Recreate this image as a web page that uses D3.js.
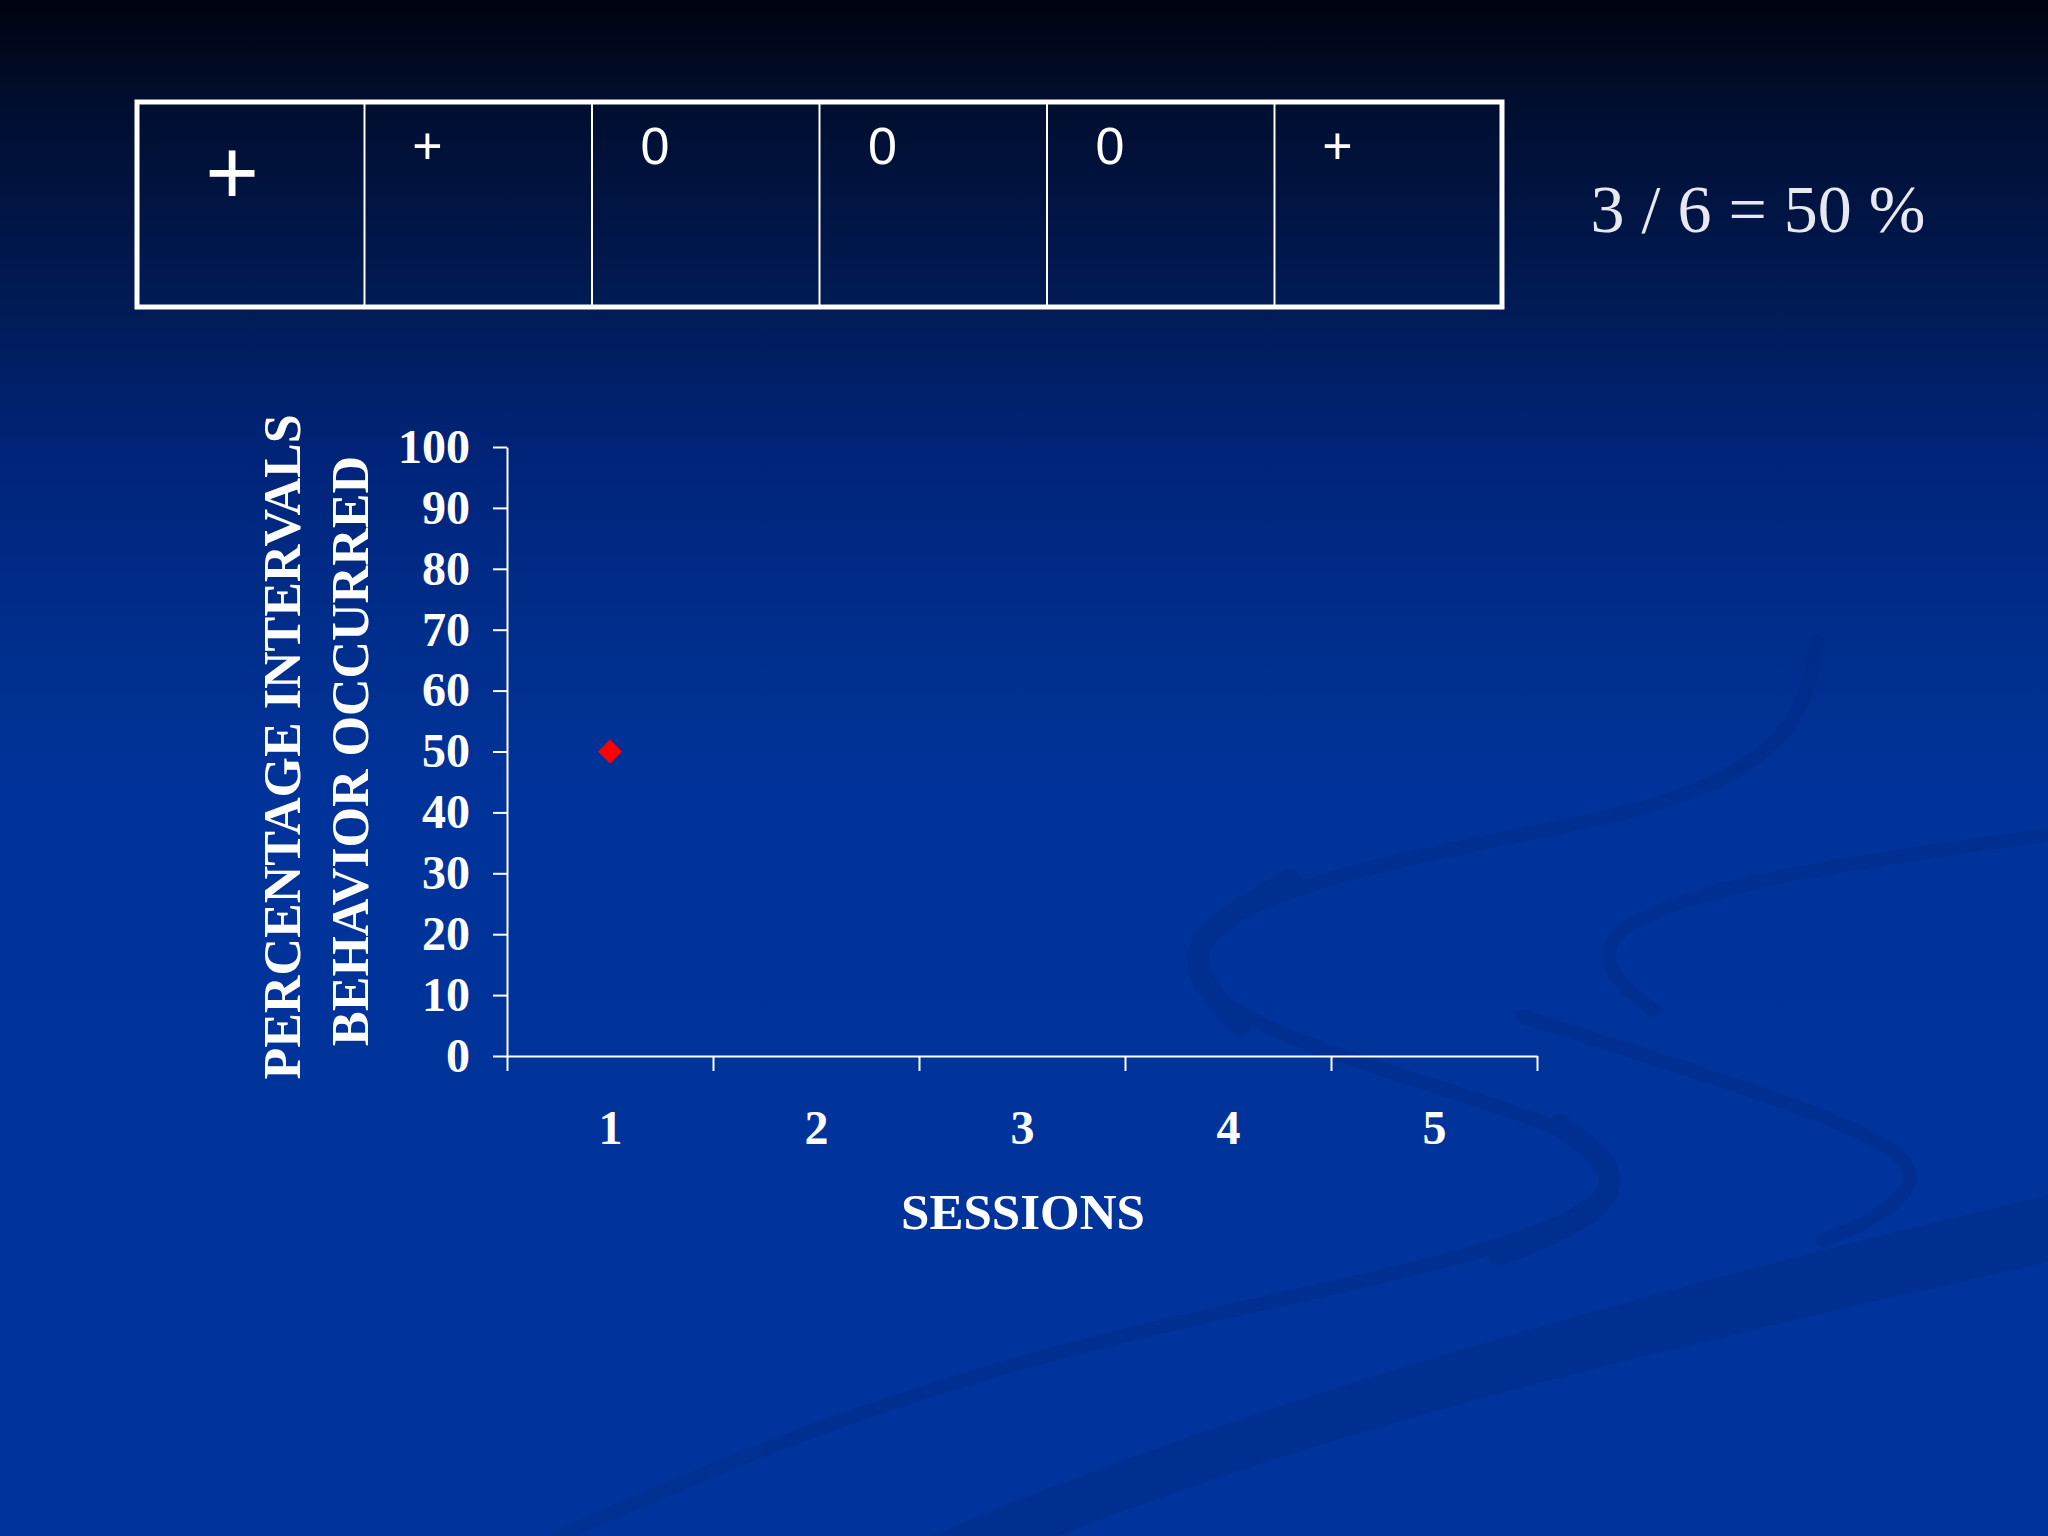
<!DOCTYPE html>
<meta charset="utf-8">
<style>

body {
  margin: 0;
  background: #00339a;
}

svg {
  display: block;
}

.axis path,
.axis line {
  stroke: #fff;
  stroke-width: 2;
}

.axis text {
  fill: #fff;
  font-family: "Liberation Serif", "Times New Roman", serif;
  font-weight: bold;
  font-size: 48px;
}

.title {
  fill: #fff;
  font-family: "Liberation Serif", "Times New Roman", serif;
  font-weight: bold;
  font-size: 51px;
  text-anchor: middle;
}

.swoosh {
  fill: none;
  stroke: #002a84;
  stroke-linecap: round;
}

</style>
<svg width="2048" height="1536"></svg>
<script src="https://d3js.org/d3.v7.min.js"></script>
<script>

// interval record: + = behaviour occurred, 0 = did not
var cells = ["+", "+", "0", "0", "0", "+"];
var ratioLabel = "3 / 6 = 50 %";

var sessions = [1, 2, 3, 4, 5];
var percentValues = [50];          // only session 1 is plotted so far
var yTicks = [0, 10, 20, 30, 40, 50, 60, 70, 80, 90, 100];

var yTitle = ["PERCENTAGE INTERVALS", "BEHAVIOR OCCURRED"];
var xTitle = "SESSIONS";

var svg = d3.select("svg"),
    width = +svg.attr("width"),
    height = +svg.attr("height");

// slide background
var grad = svg.append("defs").append("linearGradient")
    .attr("id", "bg")
    .attr("gradientUnits", "userSpaceOnUse")
    .attr("x1", 0).attr("y1", 0).attr("x2", 0).attr("y2", height);

[[0, "#00030f"], [0.065, "#000d2e"], [0.2, "#011b56"], [0.3, "#00247a"],
 [0.4, "#002d8a"], [0.52, "#00339a"], [1, "#00349c"]].forEach(function(s) {
  grad.append("stop").attr("offset", s[0]).attr("stop-color", s[1]);
});

svg.append("rect")
    .attr("width", width)
    .attr("height", height)
    .attr("fill", "url(#bg)");

// decorative swirls in the template
var curve = d3.line().curve(d3.curveBasis);

var swirls = [
  [14, [[1817, 642], [1800, 735], [1690, 800], [1552, 829], [1300, 880], [1195, 935], [1190, 975], [1250, 1030], [1500, 1105], [1615, 1150], [1620, 1200], [1470, 1262], [1100, 1335], [800, 1430], [560, 1536]]],
  [22, [[1290, 880], [1200, 930], [1192, 975], [1240, 1025]]],
  [22, [[1560, 1125], [1620, 1170], [1600, 1215], [1500, 1255]]],
  [14, [[2048, 835], [1763, 875], [1635, 915], [1598, 952], [1625, 990], [1654, 1010]]],
  [14, [[1522, 1016], [1760, 1092], [1900, 1145], [1920, 1185], [1870, 1222], [1823, 1240]]]
];

var deco = svg.append("g")
    .attr("opacity", 0.4);

swirls.forEach(function(s) {
  deco.append("path")
      .attr("class", "swoosh")
      .attr("stroke-width", s[0])
      .attr("d", curve(s[1]));
});

deco.append("path")
    .attr("fill", "#002a84")
    .attr("d", "M2048,1195 L2048,1262 C1700,1340 1350,1420 1060,1536 L930,1536 C1250,1400 1650,1290 2048,1195 Z");

// interval table
var cell = d3.scaleBand()
    .domain(d3.range(cells.length))
    .range([137, 1502]);

var table = svg.append("g");

table.selectAll("line")
  .data(d3.range(1, cells.length))
  .enter().append("line")
    .attr("x1", function(d) { return cell(d); })
    .attr("x2", function(d) { return cell(d); })
    .attr("y1", 102)
    .attr("y2", 307)
    .attr("stroke", "#fff")
    .attr("stroke-width", 2);

table.append("rect")
    .attr("x", cell.range()[0])
    .attr("y", 102)
    .attr("width", cell.range()[1] - cell.range()[0])
    .attr("height", 205)
    .attr("fill", "none")
    .attr("stroke", "#fff")
    .attr("stroke-width", 5);

table.selectAll("text")
  .data(cells)
  .enter().append("text")
    .attr("x", function(d, i) { return cell(i) + (i === 0 ? 95 : 63); })
    .attr("y", function(d, i) { return i === 0 ? 204 : 164; })
    .attr("font-size", function(d, i) { return i === 0 ? 92 : 52; })
    .attr("font-family", "'Liberation Sans', Arial, sans-serif")
    .attr("text-anchor", "middle")
    .attr("fill", "#fff")
    .text(function(d) { return d; });

svg.append("text")
    .attr("x", 1758)
    .attr("y", 232)
    .attr("text-anchor", "middle")
    .attr("font-family", "'Liberation Serif', 'Times New Roman', serif")
    .attr("font-size", 68)
    .attr("fill", "#e8e8f2")
    .text(ratioLabel);

// chart
var x = d3.scaleLinear()
    .domain([0.5, 5.5])
    .range([507, 1537]);

var y = d3.scaleLinear()
    .domain([0, 100])
    .range([1056, 447]);

svg.append("g")
    .attr("class", "axis")
    .attr("transform", "translate(0,1056)")
    .call(d3.axisBottom(x)
        .tickValues(d3.range(0.5, 5.6, 1))
        .tickSize(15)
        .tickSizeOuter(0)
        .tickFormat(""));

svg.append("g")
    .attr("class", "axis")
    .attr("transform", "translate(0,1056)")
    .call(d3.axisBottom(x)
        .tickValues(sessions)
        .tickFormat(d3.format("d"))
        .tickSize(0)
        .tickPadding(54))
  .select(".domain")
    .remove();

svg.append("g")
    .attr("class", "axis")
    .attr("transform", "translate(507,0)")
    .call(d3.axisLeft(y)
        .tickValues(yTicks)
        .tickSize(14)
        .tickSizeOuter(0)
        .tickPadding(23));

svg.selectAll(".point")
  .data(percentValues)
  .enter().append("path")
    .attr("class", "point")
    .attr("transform", function(d, i) { return "translate(" + x(sessions[i]) + "," + y(d) + ") rotate(45)"; })
    .attr("d", d3.symbol(d3.symbolSquare, 290))
    .attr("fill", "#ff0000");

// axis titles
svg.selectAll(".ytitle")
  .data(yTitle)
  .enter().append("text")
    .attr("class", "title ytitle")
    .style("font-size", "52px")
    .attr("transform", function(d, i) { return "translate(" + (300 + i * 68) + "," + (747 + i * 4) + ") rotate(-90)"; })
    .text(function(d) { return d; });

svg.append("text")
    .attr("class", "title")
    .attr("x", 1023)
    .attr("y", 1229)
    .text(xTitle);

</script>
